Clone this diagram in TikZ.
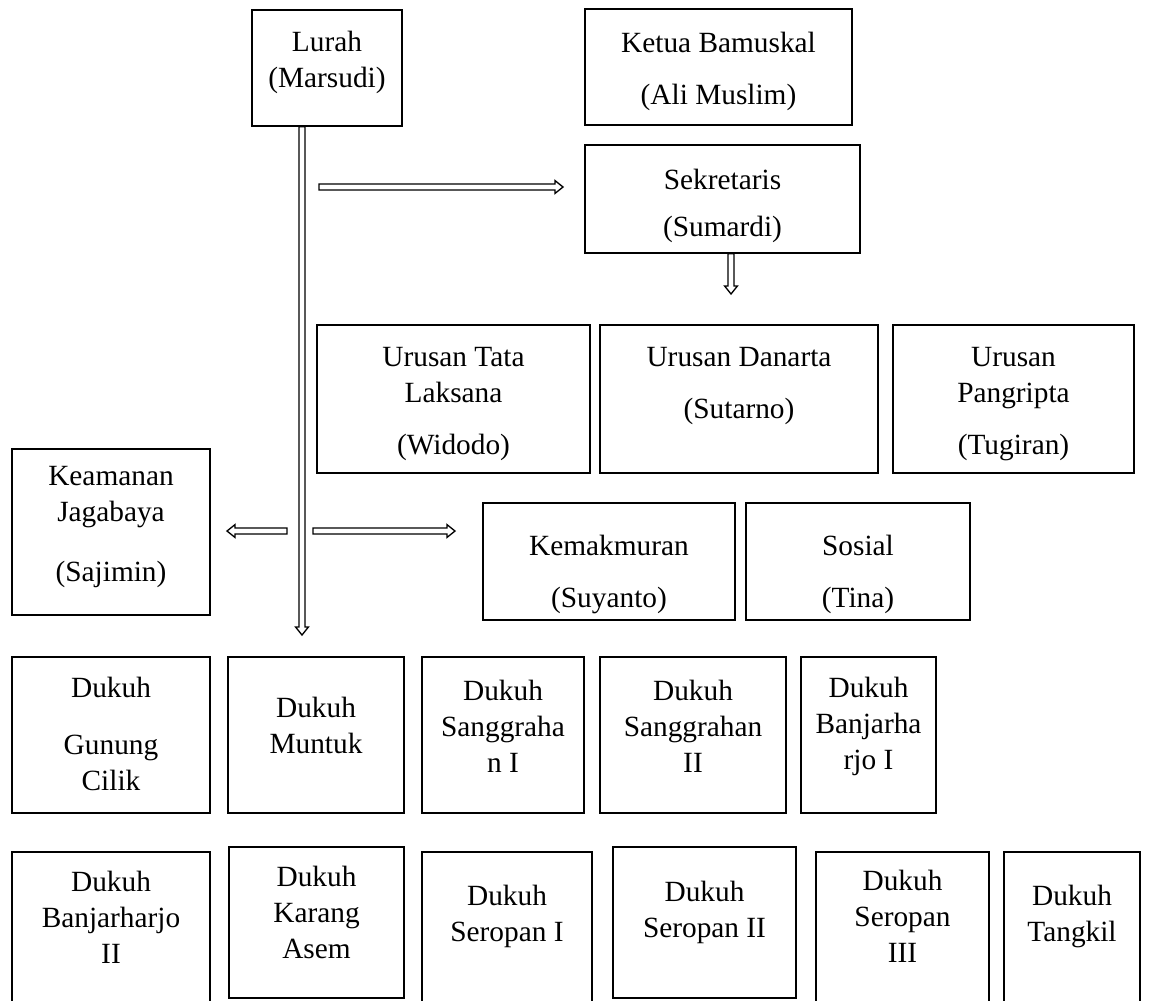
\documentclass[tikz,border=0pt]{standalone}
\usepackage{fontspec}
\setmainfont{Liberation Serif}
\usetikzlibrary{fit,calc}
\tikzset{
  box/.style={draw, line width=1.2pt, inner sep=0pt},
  txt/.style={align=center, inner sep=0pt, font=\fontsize{22}{27}\selectfont},
  harr/.style={draw, line width=1pt, fill=white, line join=miter},
}
\newcommand\obox[7]{%
  \node[box, fit={(#2,#3) (#4,#5)}] (#1) {};
  \node[txt] (#1-t) at ({(#2+#4)/2},#6) {#7};
}
% hollow block arrow from coordinate #1 to coordinate #2
\newcommand\harrow[2]{%
  \coordinate (#1#2hb) at ($(#2)!6pt!(#1)$);
  \draw[harr] ($(#1)!2.3pt!90:(#2)$) -- ($(#1#2hb)!2.3pt!90:(#2)$)
    -- ($(#1#2hb)!4.8pt!90:(#2)$) -- (#2)
    -- ($(#1#2hb)!4.8pt!-90:(#2)$) -- ($(#1#2hb)!2.3pt!-90:(#2)$)
    -- ($(#1)!2.3pt!-90:(#2)$) -- cycle;
}
\begin{document}
\begin{tikzpicture}[x=0.75pt, y=-0.75pt]
\useasboundingbox (0,0) rectangle (1152,1000);
% top
\obox{lurah}{252}{10}{402}{126}{62}{Lurah\\(Marsudi)}
\obox{ketua}{585}{9}{852}{125}{71}{Ketua Bamuskal\\[12pt](Ali Muslim)}
\obox{sek}{585}{145}{860}{253}{206}{Sekretaris\\[8pt](Sumardi)}
% urusan
\obox{tata}{317}{325}{590}{473}{404}{Urusan Tata\\Laksana\\[12pt](Widodo)}
\obox{danarta}{600}{325}{878}{473}{386}{Urusan Danarta\\[12pt](Sutarno)}
\obox{pangripta}{893}{325}{1134}{473}{404}{Urusan\\Pangripta\\[12pt](Tugiran)}
% middle
\obox{keamanan}{12}{449}{210}{615}{527}{Keamanan\\Jagabaya\\[18pt](Sajimin)}
\obox{kemakmuran}{483}{503}{735}{620}{574}{Kemakmuran\\[12pt](Suyanto)}
\obox{sosial}{746}{503}{970}{620}{574}{Sosial\\[12pt](Tina)}
% row 1
\obox{gunung}{12}{657}{210}{813}{734}{Dukuh\\[16pt]Gunung\\Cilik}
\obox{muntuk}{228}{657}{404}{813}{725}{Dukuh\\Muntuk}
\obox{sangI}{422}{657}{584}{813}{726}{Dukuh\\Sanggraha\\n I}
\obox{sangII}{600}{657}{786}{813}{726}{Dukuh\\Sanggrahan\\II}
\obox{banjI}{801}{657}{936}{813}{726}{Dukuh\\Banjarha\\rjo I}
% row 2
\obox{banjII}{12}{852}{210}{1004}{917}{Dukuh\\Banjarharjo\\II}
\obox{karang}{229}{847}{404}{998}{912}{Dukuh\\Karang\\Asem}
\obox{seropI}{422}{852}{592}{1004}{916}{Dukuh\\Seropan I}
\obox{seropII}{613}{847}{796}{998}{912}{Dukuh\\Seropan II}
\obox{seropIII}{816}{852}{989}{1004}{916}{Dukuh\\Seropan\\III}
\obox{tangkil}{1004}{852}{1140}{1004}{916}{Dukuh\\Tangkil}
% connectors
\coordinate (s0) at (lurah.south -| 302,0);
\coordinate (s1) at (302,635);
\coordinate (a0) at (319,187);
\coordinate (a1) at (563,187);
\coordinate (d0) at (sek.south -| 731,0);
\coordinate (d1) at (731,294);
\coordinate (l0) at (287,531);
\coordinate (l1) at (227,531);
\coordinate (r0) at (313,531);
\coordinate (r1) at (455,531);
\harrow{s0}{s1}
\harrow{a0}{a1}
\harrow{d0}{d1}
\harrow{l0}{l1}
\harrow{r0}{r1}
\end{tikzpicture}
\end{document}
